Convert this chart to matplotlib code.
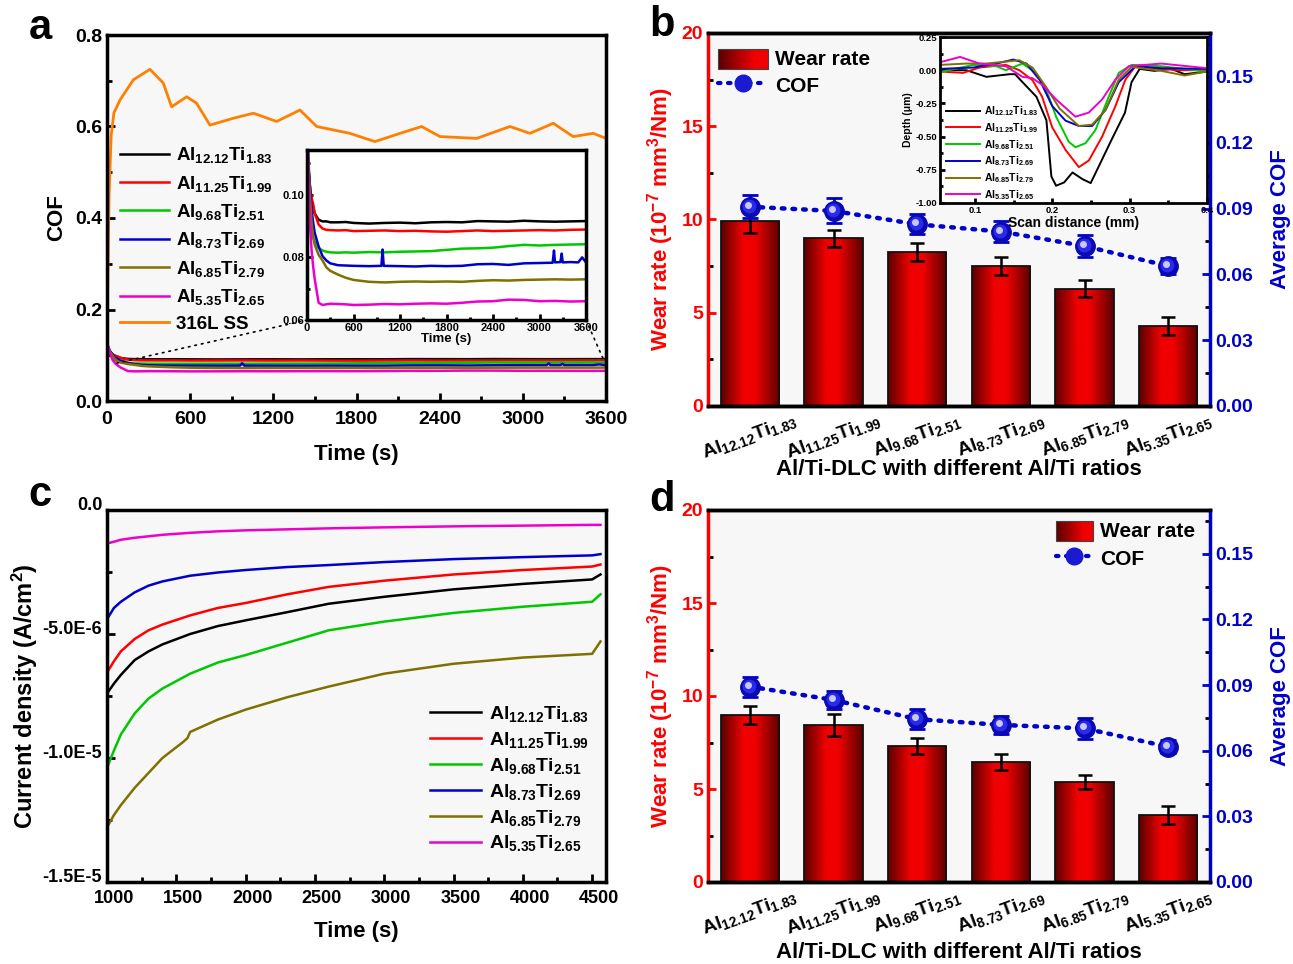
import matplotlib.pyplot as plt
import numpy as np
from matplotlib.patches import Rectangle, ConnectionPatch
from matplotlib.legend_handler import HandlerBase
from matplotlib.colors import LinearSegmentedColormap
from matplotlib.lines import Line2D
from matplotlib.ticker import MultipleLocator
from matplotlib.transforms import offset_copy, ScaledTranslation

plt.rcParams['font.family'] = ['Liberation Sans', 'DejaVu Sans']
plt.rcParams['font.weight'] = 'bold'
plt.rcParams['axes.labelweight'] = 'bold'
plt.rcParams['mathtext.fontset'] = 'custom'
plt.rcParams['mathtext.rm'] = 'Liberation Sans:bold'
plt.rcParams['mathtext.it'] = 'Liberation Sans:bold'
plt.rcParams['mathtext.bf'] = 'Liberation Sans:bold'
plt.rcParams['mathtext.default'] = 'rm'

# ---------------- data ----------------
names = ['Al$_{12.12}$Ti$_{1.83}$', 'Al$_{11.25}$Ti$_{1.99}$', 'Al$_{9.68}$Ti$_{2.51}$',
         'Al$_{8.73}$Ti$_{2.69}$', 'Al$_{6.85}$Ti$_{2.79}$', 'Al$_{5.35}$Ti$_{2.65}$']
colors = ['#000000', '#ff0000', '#00c800', '#0000cc', '#7f7000', '#ee00cc']

# (a) COF vs time
t_cof = [0, 20, 40, 60, 80, 100, 150, 200, 250, 300, 400, 500, 600, 800, 1000, 1200, 1400,
         1600, 1800, 2000, 2200, 2400, 2600, 2800, 3000, 3200, 3400, 3600]
cof_black = [0.115, 0.108, 0.102, 0.098, 0.096, 0.094, 0.092, 0.0915, 0.0915, 0.0912, 0.0912,
             0.0913, 0.091, 0.0908, 0.0910, 0.0911, 0.0909, 0.0912, 0.0913, 0.0912, 0.0916,
             0.0915, 0.0914, 0.0917, 0.0915, 0.0914, 0.0915, 0.0916]
cof_red = [0.116, 0.108, 0.102, 0.099, 0.097, 0.094, 0.0905, 0.0892, 0.0888, 0.0887, 0.0886,
           0.0887, 0.0884, 0.0885, 0.0886, 0.0884, 0.0885, 0.0883, 0.0882, 0.0884, 0.0886,
           0.0884, 0.0885, 0.0886, 0.0887, 0.0886, 0.0888, 0.0889]
cof_green = [0.118, 0.105, 0.094, 0.089, 0.0865, 0.085, 0.0830, 0.0822, 0.0818, 0.0816, 0.0815,
             0.0816, 0.0815, 0.0817, 0.0816, 0.0818, 0.0819, 0.0820, 0.0824, 0.0828, 0.0829,
             0.0831, 0.0836, 0.0840, 0.0838, 0.0840, 0.0841, 0.0842]
t_blue = [0, 20, 40, 60, 80, 100, 150, 200, 250, 300, 400, 500, 600, 800, 960, 975, 990, 1200,
          1400, 1600, 1800, 2000, 2200, 2400, 2600, 2800, 3000, 3170, 3187, 3200, 3270, 3286,
          3300, 3400, 3500, 3550, 3600]
cof_blue = [0.125, 0.110, 0.1016, 0.095, 0.091, 0.0878, 0.0835, 0.0804, 0.0790, 0.0781, 0.0775,
            0.0774, 0.0773, 0.0772, 0.0773, 0.0825, 0.0773, 0.0772, 0.0771, 0.0773, 0.0772,
            0.0773, 0.0778, 0.0779, 0.0776, 0.0781, 0.0782, 0.0783, 0.0822, 0.0784, 0.0785,
            0.0812, 0.0784, 0.0785, 0.0784, 0.0800, 0.0784]
cof_olive = [0.12, 0.108, 0.099, 0.091, 0.0865, 0.084, 0.0808, 0.0790, 0.0768, 0.0757, 0.0745,
             0.0735, 0.0728, 0.0722, 0.0720, 0.0722, 0.0723, 0.0722, 0.0723, 0.0722, 0.0725,
             0.0727, 0.0726, 0.0728, 0.0729, 0.0730, 0.0729, 0.0730]
cof_magenta = [0.13, 0.105, 0.09, 0.082, 0.077, 0.073, 0.0655, 0.0648, 0.0650, 0.0652, 0.0651,
               0.0650, 0.0648, 0.0649, 0.0651, 0.0650, 0.0652, 0.0653, 0.0652, 0.0655, 0.0659,
               0.0660, 0.0665, 0.0664, 0.0660, 0.0661, 0.0659, 0.0660]
t_ss = [0, 15, 30, 50, 94, 190, 310, 406, 466, 575, 646, 743, 911, 1056, 1224, 1392, 1513,
        1753, 1933, 2114, 2270, 2402, 2667, 2907, 3051, 3220, 3363, 3508, 3600]
cof_ss = [0.15, 0.45, 0.58, 0.63, 0.658, 0.702, 0.725, 0.695, 0.643, 0.665, 0.651, 0.603,
          0.618, 0.629, 0.611, 0.636, 0.600, 0.585, 0.567, 0.585, 0.600, 0.578, 0.574, 0.600,
          0.585, 0.607, 0.578, 0.585, 0.574]

# (b) wear rate and average COF
wear_b = [9.9, 9.0, 8.27, 7.52, 6.29, 4.29]
wear_b_err = [0.6, 0.45, 0.48, 0.47, 0.47, 0.46]
acof_b = [0.0908, 0.0889, 0.0828, 0.0795, 0.0729, 0.0638]
acof_b_err = [0.0053, 0.0057, 0.0045, 0.0046, 0.005, 0.0035]

# (b) inset: wear track profiles
dist_black = [0.055, 0.089, 0.115, 0.145, 0.152, 0.16, 0.1796, 0.1925, 0.1989, 0.205, 0.2154,
              0.2262, 0.239, 0.2497, 0.258, 0.277, 0.294, 0.3025, 0.313, 0.332, 0.3538, 0.371, 0.40]
dep_black = [0.0, 0.0, -0.05, -0.03, -0.03, -0.08, -0.20, -0.377, -0.80, -0.87, -0.845, -0.77,
             -0.82, -0.85, -0.75, -0.52, -0.32, -0.09, 0.01, -0.005, 0.01, -0.03, -0.01]
dist_red = [0.055, 0.085, 0.106, 0.14, 0.1575, 0.1745, 0.187, 0.2, 0.2172, 0.2344, 0.2473,
            0.2645, 0.2817, 0.2946, 0.3075, 0.329, 0.3634, 0.40]
dep_red = [-0.01, -0.02, 0.02, 0.04, 0.0, -0.075, -0.20, -0.43, -0.60, -0.73, -0.68, -0.50,
           -0.27, -0.07, 0.03, 0.015, 0.0, 0.0]
dist_green = [0.055, 0.098, 0.128, 0.14, 0.1616, 0.179, 0.1925, 0.205, 0.2215, 0.23, 0.243,
              0.2559, 0.273, 0.286, 0.3025, 0.341, 0.371, 0.40]
dep_green = [-0.015, 0.04, 0.03, 0.0, 0.05, -0.02, -0.15, -0.35, -0.54, -0.58, -0.55, -0.45,
             -0.20, -0.02, 0.04, 0.03, 0.01, -0.01]
dist_blue = [0.055, 0.098, 0.128, 0.1495, 0.1667, 0.184, 0.2, 0.2172, 0.2344, 0.2516, 0.2688,
             0.286, 0.3075, 0.341, 0.40]
dep_blue = [0.01, 0.02, 0.05, 0.08, 0.05, -0.075, -0.27, -0.38, -0.42, -0.42, -0.30, -0.09,
            0.03, 0.015, 0.01]
dist_olive = [0.055, 0.089, 0.115, 0.1575, 0.1745, 0.1925, 0.2097, 0.2344, 0.2516, 0.2688,
              0.286, 0.3025, 0.341, 0.371, 0.40]
dep_olive = [0.04, 0.05, 0.05, 0.075, 0.02, -0.13, -0.29, -0.42, -0.41, -0.30, -0.07, 0.025,
             -0.005, -0.04, -0.01]
dist_magenta = [0.055, 0.081, 0.106, 0.14, 0.1616, 0.1745, 0.187, 0.205, 0.23, 0.247, 0.2645,
                0.2817, 0.299, 0.341, 0.40]
dep_magenta = [0.06, 0.10, 0.05, 0.03, -0.05, -0.06, -0.11, -0.22, -0.35, -0.32, -0.22, -0.07,
               0.03, 0.05, 0.015]

# (c) current density (in 1e-6 A/cm2)
t_cd = [1000, 1050, 1100, 1200, 1300, 1400, 1600, 1800, 2000, 2300, 2600, 3000, 3500, 4000,
        4500, 4560]
cd_black = [-7.4, -7.0, -6.65, -6.05, -5.7, -5.42, -5.0, -4.68, -4.45, -4.12, -3.78, -3.5,
            -3.2, -2.98, -2.8, -2.6]
cd_red = [-6.55, -6.1, -5.7, -5.2, -4.85, -4.62, -4.25, -3.95, -3.75, -3.4, -3.1, -2.85,
          -2.6, -2.42, -2.28, -2.2]
cd_green = [-10.4, -9.7, -9.05, -8.2, -7.6, -7.2, -6.6, -6.15, -5.85, -5.35, -4.85, -4.5,
            -4.15, -3.9, -3.7, -3.4]
cd_blue = [-4.4, -3.95, -3.7, -3.32, -3.05, -2.88, -2.65, -2.52, -2.42, -2.3, -2.22, -2.1,
           -1.98, -1.9, -1.83, -1.78]
t_cd_olive = [1000, 1050, 1100, 1200, 1300, 1400, 1550, 1580, 1600, 1800, 2000, 2300, 2600,
              3000, 3500, 4000, 4500, 4560]
cd_olive = [-12.8, -12.3, -11.9, -11.2, -10.6, -10.0, -9.35, -9.2, -8.95, -8.45, -8.05, -7.55,
            -7.12, -6.6, -6.2, -5.95, -5.8, -5.3]
cd_magenta = [-1.35, -1.28, -1.2, -1.12, -1.06, -1.0, -0.92, -0.86, -0.82, -0.78, -0.74, -0.7,
              -0.66, -0.63, -0.6, -0.6]

# (d) wear rate and average COF
wear_d = [8.98, 8.44, 7.31, 6.45, 5.36, 3.60]
wear_d_err = [0.5, 0.58, 0.42, 0.42, 0.37, 0.48]
acof_d = [0.0893, 0.0832, 0.0744, 0.0718, 0.0702, 0.0618]
acof_d_err = [0.0046, 0.0043, 0.0046, 0.004, 0.0047, 0.003]

# ---------------- styling helpers ----------------
W, H = 1293, 964
fig = plt.figure(figsize=(W / 100, H / 100), dpi=100)

BLUE = '#0000cc'
bar_cmap = LinearSegmentedColormap.from_list(
    'bar', [(0, '#5a0000'), (0.38, '#f00000'), (0.58, '#f00000'), (1, '#5a0000')])


def box(l, t, r, b):
    return [l / W, (H - b) / H, (r - l) / W, (b - t) / H]


def style(ax, size=14):
    ax.tick_params(which='both', direction='in', width=2, labelsize=size)
    ax.tick_params(which='major', length=6)
    ax.tick_params(which='minor', length=3.5)
    for s in ax.spines.values():
        s.set_linewidth(2.5)


def shift_labels(labels, dx, dy):
    for lab in labels:
        lab.set_transform(lab.get_transform() +
                          ScaledTranslation(dx / 100, dy / 100, fig.dpi_scale_trans))


class GradHandler(HandlerBase):
    def create_artists(self, legend, orig, xd, yd, w, h, fontsize, trans):
        arts = []
        n = 24
        y0 = yd - 0.35 * h
        for i in range(n):
            c = bar_cmap(0.5 * i / (n - 1))
            arts.append(Rectangle((xd + i * w / n, y0), w / n + 0.3, h, facecolor=c,
                                  edgecolor='none', transform=trans))
        arts.append(Rectangle((xd, y0), w, h, fill=False, edgecolor='#444444', lw=0.8,
                              transform=trans))
        return arts


def wear_panel(rect, wear, wear_err, acof, acof_err, legend_loc, legend_anchor, hlen, xpad):
    ax = fig.add_axes(rect)
    ax.set_facecolor('#f7f7f7')
    x = np.arange(len(wear))
    bars = ax.bar(x, wear, 0.7, color='none', edgecolor='#111111', lw=1.3, zorder=3)
    grad = np.linspace(0, 1, 256).reshape(1, -1)
    for b in bars:
        x0, y0 = b.get_x(), b.get_y()
        im = ax.imshow(grad, cmap=bar_cmap, aspect='auto', zorder=2,
                       extent=(x0, x0 + b.get_width(), y0, y0 + b.get_height()))
        im.set_clip_path(b)
    ax.errorbar(x, wear, yerr=wear_err, fmt='none', ecolor='k', elinewidth=1.8,
                capsize=5, capthick=1.8, zorder=4)
    ax.set_xlim(-0.5, 5.5)
    ax.set_ylim(0, 20)
    ax.yaxis.set_major_locator(MultipleLocator(5))
    ax.yaxis.set_minor_locator(MultipleLocator(2.5))
    ax.set_xticks(x)
    ax.set_xticklabels(names, rotation=20, fontsize=13.5)
    style(ax)
    ax.tick_params(axis='y', colors='red')
    ax.tick_params(axis='x', pad=3)
    ax.spines['left'].set_color('red')
    ax.spines['right'].set_visible(False)
    ax.set_ylabel('Wear rate (10$^{-7}$ mm$^3$/Nm)', color='red', fontsize=16, labelpad=4)
    ax.set_xlabel('Al/Ti-DLC with different Al/Ti ratios', fontsize=16, labelpad=xpad)

    ax2 = ax.twinx()
    ax2.set_ylim(0, 0.17)
    ax2.yaxis.set_major_locator(MultipleLocator(0.03))
    ax2.yaxis.set_minor_locator(MultipleLocator(0.015))
    ax2.yaxis.set_major_formatter(plt.FormatStrFormatter('%.2f'))
    style(ax2)
    ax2.tick_params(axis='y', colors=BLUE)
    ax2.spines['right'].set_color(BLUE)
    ax2.spines['left'].set_visible(False)
    ax2.set_ylabel('Average COF', color=BLUE, fontsize=16, labelpad=12)
    ax2.plot(x, acof, ls=(0, (0.6, 1.8)), lw=3.2, color=BLUE, dash_capstyle='round', zorder=3)
    ax2.errorbar(x, acof, yerr=acof_err, fmt='none', ecolor=BLUE, elinewidth=2,
                 capsize=5.5, capthick=2, zorder=4)
    ax2.plot(x, acof, 'o', ms=14, color='#0a0ab0', zorder=5)
    ax2.plot(x, acof, 'o', ms=9, color='#2a2aee', zorder=6,
             transform=offset_copy(ax2.transData, fig, x=-1, y=1, units='dots'))
    ax2.plot(x, acof, 'o', ms=4, color='#c8c8ff', zorder=7,
             transform=offset_copy(ax2.transData, fig, x=-2, y=2, units='dots'))

    h_bar = Rectangle((0, 0), 1, 1)
    h_cof = Line2D([], [], ls=(0, (0.6, 1.8)), lw=3, color=BLUE, marker='o', ms=12,
                   mfc='#1a1ad0', mec='#1a1ad0', dash_capstyle='round')
    ax2.legend([h_bar, h_cof], ['Wear rate', 'COF'], handler_map={Rectangle: GradHandler()},
               loc=legend_loc, bbox_to_anchor=legend_anchor, frameon=False, fontsize=15,
               handlelength=hlen, handleheight=1.1, handletextpad=0.35, labelspacing=0.3,
               borderaxespad=0.3)
    return ax, ax2


# ---------------- (a) ----------------
ax_a = fig.add_axes(box(107, 35, 606, 401))
ax_a.set_facecolor('#f7f7f7')
cof_series = [(t_cof, cof_black), (t_cof, cof_red), (t_cof, cof_green), (t_blue, cof_blue),
              (t_cof, cof_olive), (t_cof, cof_magenta)]
for (tt, yy), c, n in zip(cof_series, colors, names):
    ax_a.plot(tt, yy, color=c, lw=1.8, label=n)
ax_a.plot(t_ss, cof_ss, color='#ff8000', lw=2, label='316L SS')
ax_a.set_xlim(0, 3600)
ax_a.set_ylim(0, 0.8)
ax_a.xaxis.set_major_locator(MultipleLocator(600))
ax_a.xaxis.set_minor_locator(MultipleLocator(300))
ax_a.yaxis.set_major_locator(MultipleLocator(0.2))
ax_a.yaxis.set_minor_locator(MultipleLocator(0.1))
ax_a.yaxis.set_major_formatter(plt.FormatStrFormatter('%.1f'))
style(ax_a)
ax_a.tick_params(axis='x', pad=7)
ax_a.set_xlabel('Time (s)', fontsize=16, labelpad=12)
ax_a.set_ylabel('COF', fontsize=16, labelpad=6)
ax_a.legend(loc='upper left', bbox_to_anchor=(0.0, 0.735), frameon=False, fontsize=13.5,
            handlelength=2.6, handletextpad=0.4, labelspacing=0.45, borderaxespad=0.3)

ins_a = fig.add_axes(box(307, 150, 586, 320))
ins_a.set_facecolor('white')
for (tt, yy), c in zip(cof_series, colors):
    ins_a.plot(tt, yy, color=c, lw=1.8)
ins_a.set_xlim(0, 3600)
ins_a.set_ylim(0.06, 0.1143)
ins_a.xaxis.set_major_locator(MultipleLocator(600))
ins_a.xaxis.set_minor_locator(MultipleLocator(300))
ins_a.yaxis.set_major_locator(MultipleLocator(0.02))
ins_a.yaxis.set_minor_locator(MultipleLocator(0.01))
ins_a.yaxis.set_major_formatter(plt.FormatStrFormatter('%.2f'))
style(ins_a, size=8)
ins_a.tick_params(which='major', length=4)
ins_a.tick_params(which='minor', length=2)
ins_a.tick_params(pad=2)
ins_a.set_xlabel('Time (s)', fontsize=9.5, labelpad=0)
for xa, xb in [((0, 0), (60, 0.082)), ((1, 0), (3590, 0.085))]:
    con = ConnectionPatch(xyA=xa, coordsA=ins_a.transAxes, xyB=xb, coordsB=ax_a.transData,
                          ls=(0, (1, 3)), lw=1.2, color='k')
    fig.add_artist(con)

# ---------------- (b) ----------------
ax_b, ax_b2 = wear_panel(box(708, 33, 1210, 406), wear_b, wear_b_err, acof_b, acof_b_err,
                         'upper left', (-0.01, 1.0), 2.4, -3)

ins_b = fig.add_axes(box(940, 37, 1207, 203))
ins_b.set_facecolor('white')
profiles = [(dist_black, dep_black), (dist_red, dep_red), (dist_green, dep_green),
            (dist_blue, dep_blue), (dist_olive, dep_olive), (dist_magenta, dep_magenta)]
for (dd, zz), c, n in zip(profiles, colors, names):
    ins_b.plot(dd, zz, color=c, lw=1.4, label=n)
ins_b.set_xlim(0.055, 0.4)
ins_b.set_ylim(-1.0, 0.25)
ins_b.xaxis.set_major_locator(MultipleLocator(0.1))
ins_b.xaxis.set_minor_locator(MultipleLocator(0.05))
ins_b.yaxis.set_major_locator(MultipleLocator(0.25))
ins_b.yaxis.set_minor_locator(MultipleLocator(0.125))
ins_b.yaxis.set_major_formatter(plt.FormatStrFormatter('%.2f'))
style(ins_b, size=6.8)
ins_b.tick_params(which='major', length=3.5)
ins_b.tick_params(which='minor', length=2)
ins_b.tick_params(pad=2)
for s in ins_b.spines.values():
    s.set_linewidth(2)
ins_b.set_xlabel('Scan distance (mm)', fontsize=10, labelpad=1)
ins_b.set_ylabel('Depth (\u03bcm)', fontsize=7.5, labelpad=2)
ins_b.legend(loc='lower left', bbox_to_anchor=(0.0, -0.03), frameon=False, fontsize=7.5,
             handlelength=3.2, handletextpad=0.4, labelspacing=0.28, borderaxespad=0.2)

# ---------------- (c) ----------------
ax_c = fig.add_axes(box(107, 510, 606, 882))
ax_c.set_facecolor('#f7f7f7')
cd_series = [(t_cd, cd_black), (t_cd, cd_red), (t_cd, cd_green), (t_cd, cd_blue),
             (t_cd_olive, cd_olive), (t_cd, cd_magenta)]
for (tt, yy), c, n in zip(cd_series, colors, names):
    ax_c.plot(tt, np.array(yy) * 1e-6, color=c, lw=1.8, label=n)
ax_c.set_xlim(1000, 4600)
ax_c.set_ylim(-1.5e-5, 0)
ax_c.xaxis.set_major_locator(MultipleLocator(500))
ax_c.xaxis.set_minor_locator(MultipleLocator(250))
ax_c.set_yticks([-1.5e-5, -1.0e-5, -5.0e-6, 0.0])
ax_c.set_yticklabels(['-1.5E-5', '-1.0E-5', '-5.0E-6', '0.0'])
ax_c.yaxis.set_minor_locator(MultipleLocator(2.5e-6))
style(ax_c, size=13)
ax_c.tick_params(axis='x', pad=6)
shift_labels(ax_c.get_yticklabels(), 0, 6)
shift_labels(ax_c.get_xticklabels(), 7, 0)
ax_c.set_xlabel('Time (s)', fontsize=16, labelpad=10)
ax_c.set_ylabel('Current density (A/cm$^2$)', fontsize=17, labelpad=2)
ax_c.legend(loc='lower right', bbox_to_anchor=(1.0, 0.03), frameon=False, fontsize=14,
            handlelength=2.6, handletextpad=0.4, labelspacing=0.3)

# ---------------- (d) ----------------
wear_panel(box(708, 510, 1210, 882), wear_d, wear_d_err, acof_d, acof_d_err,
           'upper right', (1.0, 1.012), 1.8, 2)

# panel letters
for lab, (px, py) in zip('abcd', [(40, 28), (662, 25), (40, 495), (662, 500)]):
    fig.text(px / W, 1 - py / H, lab, fontsize=30, fontweight='bold', ha='center', va='center')

fig.savefig('out.png', dpi=100)
